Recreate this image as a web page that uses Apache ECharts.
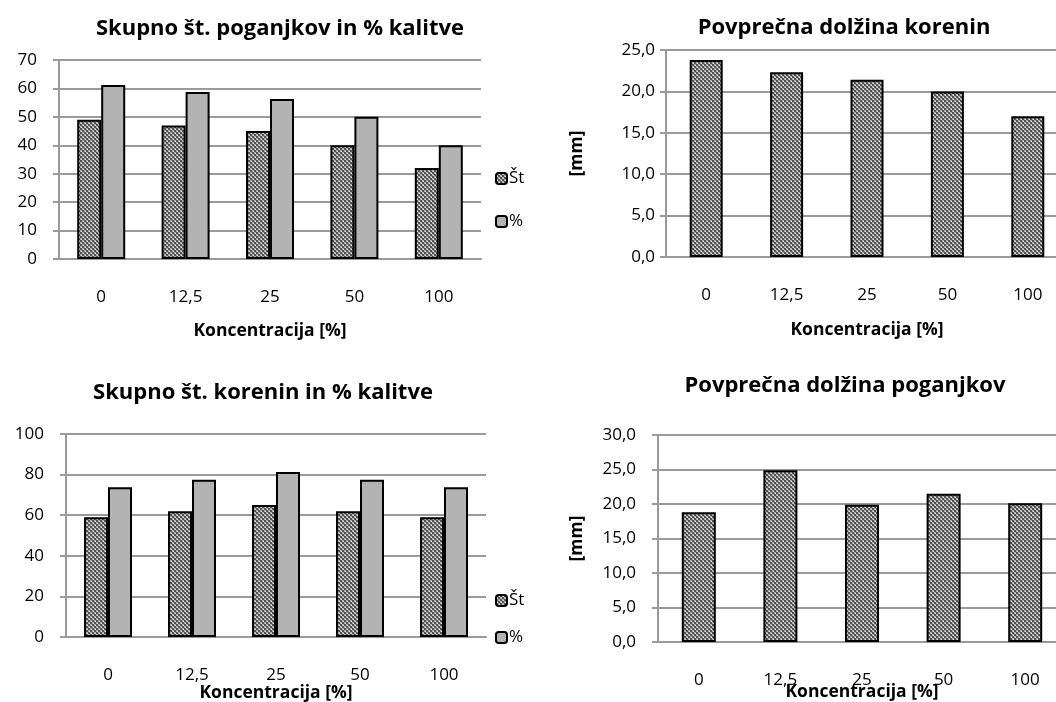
<!DOCTYPE html>
<html>
<head>
<meta charset="utf-8">
<script src="https://cdn.jsdelivr.net/npm/echarts@6/dist/echarts.min.js"></script>
<style>
  html, body { margin: 0; padding: 0; background: #fff; }
  #chart { width: 1056px; height: 702px; }
</style>
</head>
<body>
<div id="chart"></div>
<script>
// Concentration categories shared by all four panels
const categories = ['0', '12,5', '25', '50', '100'];

// Skupno št. poganjkov in % kalitve
const shootCount = [49, 47, 45, 40, 32];
const shootPct = [61.25, 58.75, 56.25, 50, 40];

// Povprečna dolžina korenin [mm]
const rootLength = [23.8, 22.3, 21.4, 20.0, 17.0];

// Skupno št. korenin in % kalitve
const rootCount = [59, 62, 65, 62, 59];
const rootPct = [73.75, 77.5, 81.25, 77.5, 73.75];

// Povprečna dolžina poganjkov [mm]
const shootLength = [18.8, 24.9, 19.9, 21.5, 20.1];

const FONT = 'Open Sans';

// small checker fill used for the count / length bars
function checkerTile() {
  const c = document.createElement('canvas');
  c.width = 4; c.height = 4;
  const g = c.getContext('2d');
  const px = [
    ['#4a4a4a', '#5a5a5a', '#b8b8b8', '#a8a8a8'],
    ['#5a5a5a', '#4a4a4a', '#a8a8a8', '#dcdcdc'],
    ['#b8b8b8', '#a8a8a8', '#4a4a4a', '#5a5a5a'],
    ['#a8a8a8', '#dcdcdc', '#5a5a5a', '#4a4a4a']
  ];
  for (let y = 0; y < 4; y++) for (let x = 0; x < 4; x++) {
    g.fillStyle = px[y][x];
    g.fillRect(x, y, 1, 1);
  }
  return c;
}
const checker = { image: checkerTile(), repeat: 'repeat' };

// plot areas; the right-hand panels run past the page edge
const grids = [
  { left: 59, top: 60, width: 422, height: 199 },
  { left: 666, top: 50, width: 402, height: 207 },
  { left: 66, top: 434, width: 420, height: 203 },
  { left: 658, top: 435, width: 408, height: 207 }
].map(g => Object.assign({ outerBoundsMode: 'none', containLabel: false }, g));

const gridLineColor = '#9a9a9a';

function xAxis(gridIndex, nameGap) {
  return {
    type: 'category', gridIndex, data: categories,
    axisLine: { lineStyle: { color: gridLineColor, width: 2 } },
    axisTick: { show: false },
    axisLabel: { color: '#000', fontFamily: FONT, fontSize: 17, margin: 30 },
    name: 'Koncentracija [%]', nameLocation: 'middle', nameGap,
    nameMoveOverlap: false,
    nameTextStyle: { color: '#000', fontFamily: FONT, fontSize: 17.5, fontWeight: 'bold' }
  };
}

function yAxis(gridIndex, max, interval, decimals, nameGap, labelMargin) {
  const ax = {
    type: 'value', gridIndex, min: 0, max, interval,
    axisLine: { show: true, lineStyle: { color: gridLineColor, width: 2 } },
    axisTick: { show: true, length: 6, lineStyle: { color: gridLineColor, width: 2 } },
    splitLine: { lineStyle: { color: gridLineColor, width: 2 } },
    axisLabel: {
      color: '#000', fontFamily: FONT, fontSize: 17, margin: labelMargin,
      formatter: v => decimals ? v.toFixed(decimals).replace('.', ',') : String(v)
    }
  };
  if (nameGap) {
    ax.name = '[mm]';
    ax.nameLocation = 'middle';
    ax.nameGap = nameGap;
    ax.nameMoveOverlap = false;
    ax.nameTextStyle = { color: '#000', fontFamily: FONT, fontSize: 17.5, fontWeight: 'bold' };
  }
  return ax;
}

function title(text, cx, cy) {
  return {
    text, left: cx, top: cy, textAlign: 'center', textVerticalAlign: 'middle',
    textStyle: { color: '#000', fontFamily: FONT, fontSize: 22, fontWeight: 'bold' }
  };
}

function legend(top, gap) {
  return {
    data: ['Št', '%'], orient: 'vertical', left: 490, top,
    itemWidth: 11, itemHeight: 11, itemGap: gap,
    textStyle: { color: '#000', fontFamily: FONT, fontSize: 17, padding: [0, 0, 0, -3] },
    selectedMode: false
  };
}

const edge = { borderColor: '#000', borderWidth: 2 };

const option = {
  animation: false,
  backgroundColor: '#fff',
  title: [
    title('Skupno št. poganjkov in % kalitve', 275, 24),
    title('Povprečna dolžina korenin', 839, 23),
    title('Skupno št. korenin in % kalitve', 258, 388),
    title('Povprečna dolžina poganjkov', 840, 381)
  ],
  legend: [legend(165, 26), legend(587, 20)],
  grid: grids,
  xAxis: [xAxis(0, 63), xAxis(1, 64), xAxis(2, 47), xAxis(3, 41)],
  yAxis: [
    yAxis(0, 70, 10, 0, 0, 22),
    yAxis(1, 25, 5, 1, 80, 11),
    yAxis(2, 100, 20, 0, 0, 22),
    yAxis(3, 30, 5, 1, 72, 22)
  ],
  series: [
    { name: 'Št', type: 'bar', xAxisIndex: 0, yAxisIndex: 0, data: shootCount,
      barWidth: 24, barGap: '0%', itemStyle: Object.assign({ color: checker }, edge) },
    { name: '%', type: 'bar', xAxisIndex: 0, yAxisIndex: 0, data: shootPct,
      barWidth: 24, barGap: '0%', itemStyle: Object.assign({ color: '#b3b3b3' }, edge) },
    { name: 'Dolžina korenin', type: 'bar', xAxisIndex: 1, yAxisIndex: 1, data: rootLength,
      barWidth: 33, itemStyle: Object.assign({ color: checker }, edge) },
    { name: 'Št', type: 'bar', xAxisIndex: 2, yAxisIndex: 2, data: rootCount,
      barWidth: 24, barGap: '0%', itemStyle: Object.assign({ color: checker }, edge) },
    { name: '%', type: 'bar', xAxisIndex: 2, yAxisIndex: 2, data: rootPct,
      barWidth: 24, barGap: '0%', itemStyle: Object.assign({ color: '#b3b3b3' }, edge) },
    { name: 'Dolžina poganjkov', type: 'bar', xAxisIndex: 3, yAxisIndex: 3, data: shootLength,
      barWidth: 34, itemStyle: Object.assign({ color: checker }, edge) }
  ]
};

const chart = echarts.init(document.getElementById('chart'), null, { renderer: 'canvas' });
chart.setOption(option);
</script>
</body>
</html>
